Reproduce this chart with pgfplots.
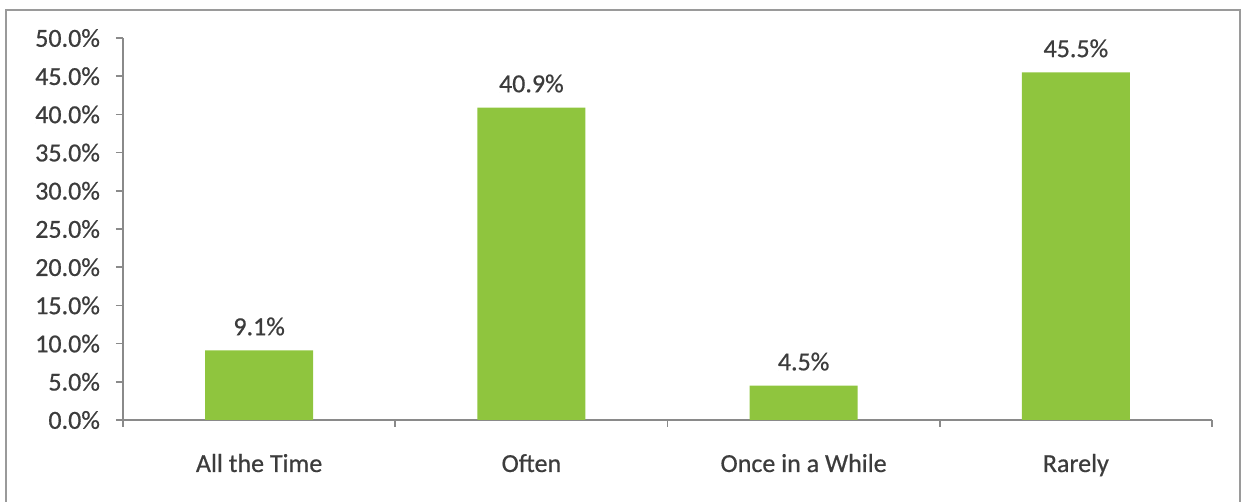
\documentclass[border=0pt]{standalone}
\usepackage{pgfplots}
\pgfplotsset{compat=1.18}
\usepackage{fontspec}
\setmainfont{Carlito}
\newfontfamily\chartfont{Carlito}[FakeBold=0.6]
\definecolor{bargreen}{HTML}{8FC53E}
\definecolor{txtgray}{HTML}{3C3C3C}
\definecolor{axisgray}{HTML}{8A8A8A}
\definecolor{framegray}{HTML}{9A9A9A}
\begin{document}
\begin{tikzpicture}[x=1pt,y=1pt]
\useasboundingbox (0,0) rectangle (621.5,251);
\draw[framegray, line width=1.2pt] (3,0) -- (3,246) -- (620,246) -- (620,0);
\begin{axis}[
  at={(61.5pt,41pt)}, anchor=south west,
  scale only axis, width=544.5pt, height=191pt,
  xmin=-0.5, xmax=3.5, ymin=0, ymax=50,
  axis x line*=bottom, axis y line*=left,
  axis line style={axisgray, line width=0.8pt},
  tick align=outside, major tick length=3.5pt,
  ytick={0,5,...,50},
  yticklabel={\pgfmathprintnumber[fixed,fixed zerofill,precision=1,assume math mode=true]{\tick}\%},
  yticklabel style={font=\chartfont\fontsize{13}{15}\selectfont, text=txtgray, xshift=-4.5pt},
  ytick style={axisgray, line width=0.8pt},
  xtick={0,1,2,3},
  xticklabels={All the Time, Often, Once in a While, Rarely},
  xtick style={draw=none},
  xticklabel style={font=\chartfont\fontsize{13}{15}\selectfont, text=txtgray, anchor=base, yshift=-22.5pt},
  extra x ticks={-0.5,0.5,1.5,2.5,3.5},
  extra x tick labels={},
  extra x tick style={xtick style={draw=axisgray, line width=0.8pt}},
  ybar, bar width=54pt,
  nodes near coords={\pgfmathprintnumber[fixed,fixed zerofill,precision=1,assume math mode=true]{\pgfplotspointmeta}\%},
  every node near coord/.append style={font=\chartfont\fontsize{13}{15}\selectfont, text=txtgray, yshift=4pt},
  clip=false,
]
\addplot[fill=bargreen, draw=none] coordinates {(0,9.1) (1,40.9) (2,4.5) (3,45.5)};
\end{axis}
\end{tikzpicture}
\end{document}
